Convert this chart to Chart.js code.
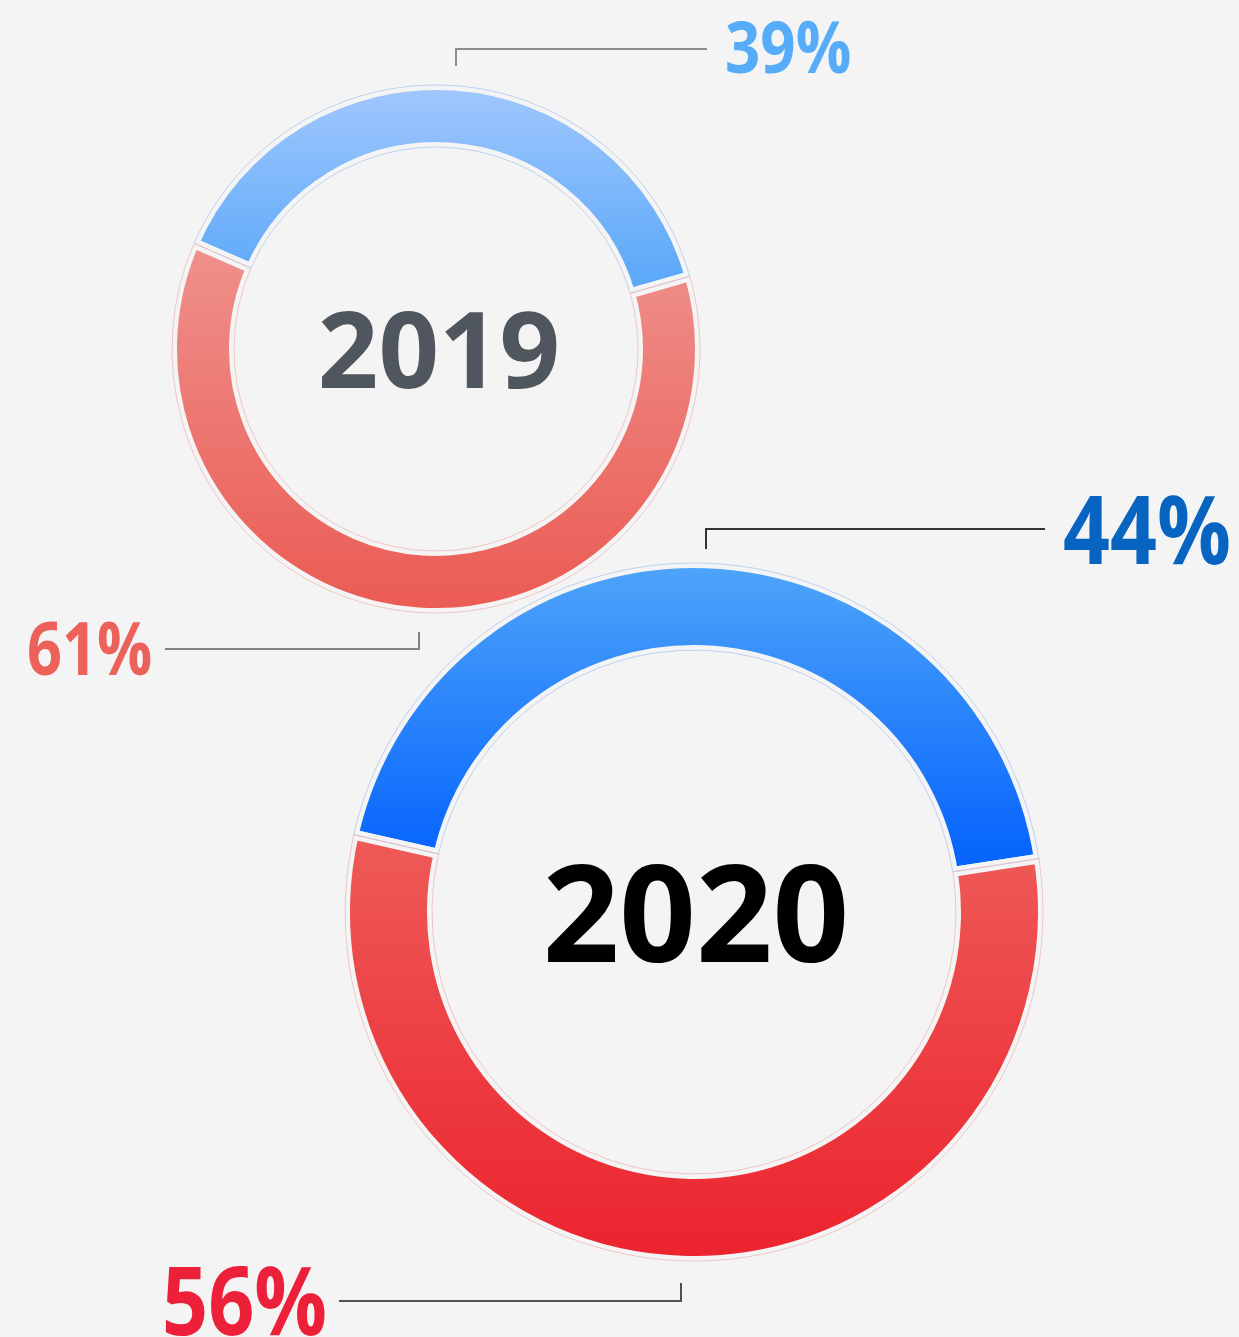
<!DOCTYPE html>
<html>
<head>
<meta charset="utf-8">
<script src="https://cdn.jsdelivr.net/npm/chart.js@4.4.1/dist/chart.umd.min.js"></script>
<style>
  html, body { margin: 0; padding: 0; background: #f4f4f4; }
  #wrap { position: relative; width: 1239px; height: 1337px; overflow: hidden; background: #f4f4f4; font-family: "Open Sans", "Noto Sans", sans-serif; font-weight: 700; }
  canvas { position: absolute; }
  .txt { position: absolute; line-height: 1; white-space: nowrap; }
  .pct { transform-origin: 0 0; }
  .lead { position: absolute; box-sizing: border-box; }
</style>
</head>
<body>
<div id="wrap">
  <canvas id="chart2019" width="538" height="538" style="left:167px;top:80px"></canvas>
  <canvas id="chart2020" width="708" height="708" style="left:340px;top:558px"></canvas>

  <div class="txt" id="year2019" style="left:239px;width:400px;text-align:center;top:294px;font-size:106px;color:#50565e"></div>
  <div class="txt" id="year2020" style="left:496px;width:400px;text-align:center;top:843px;font-size:134px;color:#000"></div>

  <div class="lead" style="left:455px;top:48px;width:252px;height:18px;border-top:2px solid #8b8e91;border-left:2px solid #8b8e91"></div>
  <div class="lead" style="left:165px;top:632px;width:255px;height:18px;border-bottom:2px solid #7e8388;border-right:2px solid #7e8388"></div>
  <div class="lead" style="left:705px;top:528px;width:340px;height:21px;border-top:2px solid #333;border-left:2px solid #333"></div>
  <div class="lead" style="left:339px;top:1283px;width:343px;height:19px;border-bottom:2px solid #505050;border-right:2px solid #505050"></div>

  <div class="txt pct" id="pctA2019" style="left:725px;top:10px;font-size:71px;color:#56acf8;transform:scaleX(0.87)"></div>
  <div class="txt pct" id="pctB2019" style="left:27px;top:610px;font-size:73px;color:#ec625b;transform:scaleX(0.84)"></div>
  <div class="txt pct" id="pctA2020" style="left:1063px;top:480px;font-size:95px;color:#0864c1;transform:scaleX(0.865)"></div>
  <div class="txt pct" id="pctB2020" style="left:162px;top:1251px;font-size:95px;color:#ec2139;transform:scaleX(0.85)"></div>
</div>
<script>
// shares per year: [blue part, red part]
var years = ['2019', '2020'];
var parts = ['Blue', 'Red'];
var share2019 = [39, 61];
var share2020 = [44, 56];

function grad(stopsPerSlice) {
  return function (c) {
    var stops = stopsPerSlice[c.dataIndex];
    var chart = c.chart;
    var area = chart.chartArea;
    if (!area) return stops[0][1];
    var g = chart.ctx.createLinearGradient(0, area.top, 0, area.bottom);
    stops.forEach(function (s) { g.addColorStop(s[0], s[1]); });
    return g;
  };
}

// faint outline around every segment
var outlinePlugin = {
  id: 'outline',
  afterDatasetsDraw: function (chart, args, opts) {
    var ctx = chart.ctx;
    chart.getDatasetMeta(0).data.forEach(function (arc, i) {
      var p = arc.getProps(['x', 'y', 'startAngle', 'endAngle', 'innerRadius', 'outerRadius'], true);
      ctx.save();
      ctx.beginPath();
      ctx.arc(p.x, p.y, p.outerRadius, p.startAngle, p.endAngle);
      ctx.arc(p.x, p.y, p.innerRadius, p.endAngle, p.startAngle, true);
      ctx.closePath();
      ctx.lineWidth = 1;
      ctx.strokeStyle = opts.colors[i];
      ctx.stroke();
      ctx.restore();
    });
  }
};

function ring(id, values, rotation, cutout, blueStops, redStops) {
  return new Chart(document.getElementById(id), {
    type: 'doughnut',
    data: {
      labels: parts,
      datasets: [{
        data: values,
        backgroundColor: grad([blueStops, redStops]),
        borderColor: '#f4f4f4',
        borderWidth: 10,
        hoverBorderWidth: 10,
        hoverOffset: 0
      }]
    },
    options: {
      responsive: false,
      animation: false,
      events: [],
      rotation: rotation,
      cutout: cutout,
      layout: { padding: 0 },
      plugins: {
        legend: { display: false },
        tooltip: { enabled: false },
        outline: { colors: ['rgba(175,200,240,0.8)', 'rgba(240,185,185,0.8)'] }
      }
    },
    plugins: [outlinePlugin]
  });
}

ring('chart2019', share2019, -66.4, 202,
  [[0, '#a3c8fd'], [0.36, '#5eaaf9'], [1, '#3f95f5']],
  [[0, '#f09c97'], [0.3, '#ef918c'], [1, '#eb5a53']]);
ring('chart2020', share2020, -77.2, 262,
  [[0, '#50a6f9'], [0.41, '#0866fd'], [1, '#0050e0']],
  [[0, '#f07070'], [0.38, '#ee5c58'], [1, '#ec222e']]);

document.getElementById('year2019').textContent = years[0];
document.getElementById('year2020').textContent = years[1];
document.getElementById('pctA2019').textContent = share2019[0] + '%';
document.getElementById('pctB2019').textContent = share2019[1] + '%';
document.getElementById('pctA2020').textContent = share2020[0] + '%';
document.getElementById('pctB2020').textContent = share2020[1] + '%';
</script>
</body>
</html>
